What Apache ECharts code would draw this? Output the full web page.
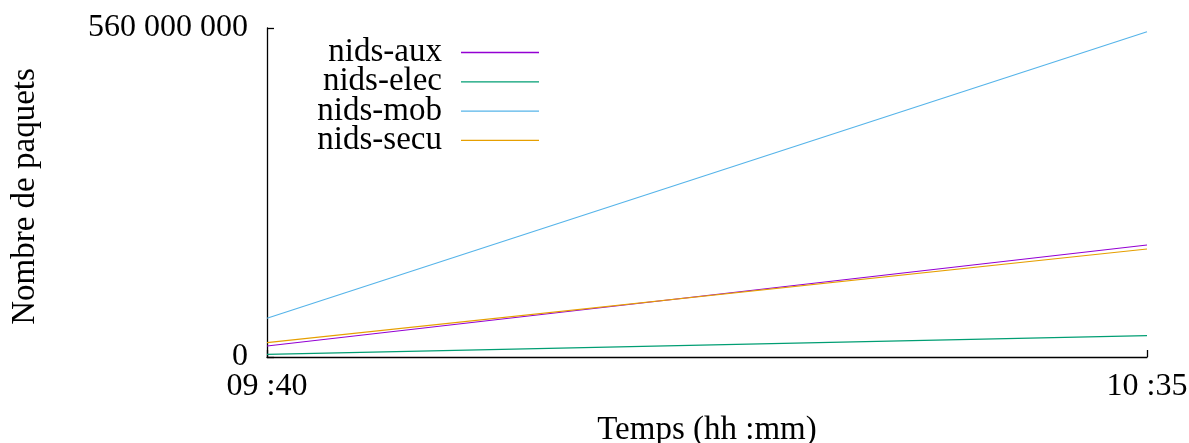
<!DOCTYPE html>
<html>
<head>
<meta charset="utf-8">
<script src="https://cdn.jsdelivr.net/npm/echarts@6/dist/echarts.min.js"></script>
<style>
html,body{margin:0;padding:0;background:#fff;}
#chart{width:1189px;height:443px;}
</style>
</head>
<body>
<div id="chart"></div>
<script>
// Time in minutes since midnight (09:40 -> 580, 10:35 -> 635)
const times = [580, 635];
const xTickLabels = {580: '09 :40', 635: '10 :35'};
const yTickLabels = {0: '0', 560000000: '560 000 000'};
const seriesNames = ['nids-aux', 'nids-elec', 'nids-mob', 'nids-secu'];
const nidsAux  = [18700000, 190600000];
const nidsElec = [4600000, 36300000];
const nidsMob  = [65900000, 553700000];
const nidsSecu = [24400000, 183800000];
const colors = ['#9400D3', '#009E73', '#56B4E9', '#E69F00'];

const allValues = [nidsAux, nidsElec, nidsMob, nidsSecu];
const FONT = 'Liberation Serif';
const FS = 33;
const FT = 32;

const chart = echarts.init(document.getElementById('chart'));
chart.setOption({
  animation: false,
  backgroundColor: '#ffffff',
  grid: {left: 267, right: 42, top: 28, bottom: 86, containLabel: false, outerBoundsMode: 'none'},
  legend: {
    orient: 'vertical',
    right: 645,
    top: 31,
    align: 'right',
    icon: 'path://M0,0 L78,0 L78,1.3 L0,1.3 Z',
    symbolKeepAspect: false,
    itemWidth: 78,
    itemHeight: 1.3,
    itemGap: -3.7,
    textStyle: {fontFamily: FONT, fontSize: FS, color: '#000', padding: [0, 14, 0, 0]},
    data: seriesNames
  },
  xAxis: {
    type: 'value',
    min: 580, max: 635, interval: 55,
    name: 'Temps (hh :mm)',
    nameLocation: 'middle',
    nameGap: 57,
    nameTextStyle: {fontFamily: FONT, fontSize: FS, color: '#000'},
    axisLine: {lineStyle: {color: '#000', width: 1.3}},
    axisTick: {inside: true, length: 7, lineStyle: {color: '#000', width: 1.3}},
    axisLabel: {fontFamily: FONT, fontSize: FT, color: '#000', margin: 14,
      formatter: v => xTickLabels[v] || ''},
    splitLine: {show: false}
  },
  yAxis: {
    type: 'value',
    min: 0, max: 560000000, interval: 560000000,
    name: 'Nombre de paquets',
    nameLocation: 'middle',
    nameRotate: 90,
    nameGap: 225,
    nameTextStyle: {fontFamily: FONT, fontSize: FS, color: '#000', padding: [0, 8, 0, 0]},
    axisLine: {show: true, lineStyle: {color: '#000', width: 1.3}},
    axisTick: {show: true, inside: true, length: 7, lineStyle: {color: '#000', width: 1.3}},
    axisLabel: {fontFamily: FONT, fontSize: FT, color: '#000', margin: 19, padding: [10, 0, 0, 0],
      formatter: v => yTickLabels[v] !== undefined ? yTickLabels[v] : ''},
    splitLine: {show: false}
  },
  series: seriesNames.map((name, i) => ({
    name: name,
    type: 'line',
    data: times.map((t, j) => [t, allValues[i][j]]),
    showSymbol: false,
    symbol: 'none',
    color: colors[i],
    lineStyle: {color: colors[i], width: 1.2}
  }))
});
</script>
</body>
</html>
